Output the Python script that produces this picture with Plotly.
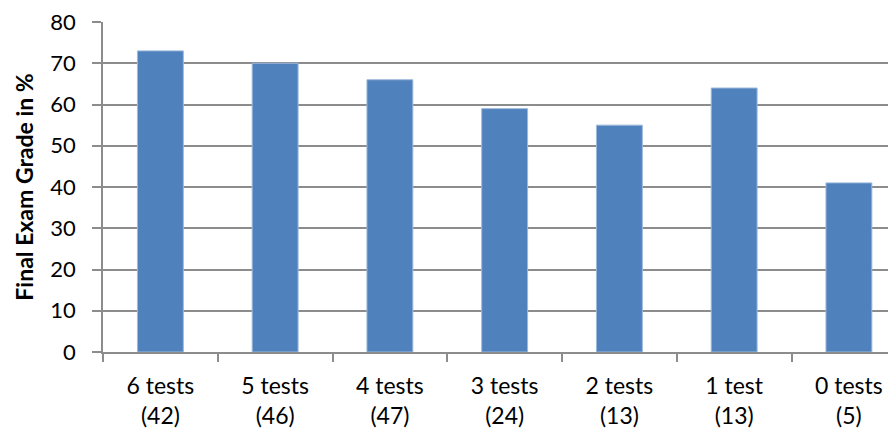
import plotly.graph_objects as go

categories = ["6 tests<br>(42)", "5 tests<br>(46)", "4 tests<br>(47)", "3 tests<br>(24)",
              "2 tests<br>(13)", "1 test<br>(13)", "0 tests<br>(5)"]
grades = [73, 70, 66, 59, 55, 64, 41]
y_ticks = [0, 10, 20, 30, 40, 50, 60, 70, 80]

fig = go.Figure(go.Bar(
    x=categories, y=grades,
    marker=dict(color="#4F81BD", line=dict(color="#9DB9DC", width=1)),
))

grid = "#8C8C8C"
fig.update_layout(
    width=896, height=432,
    margin=dict(l=95, r=0, t=12, b=88),
    plot_bgcolor="white", paper_bgcolor="white",
    bargap=0.6,
    showlegend=False,
    font=dict(family="Lato, Open Sans, sans-serif", size=22, color="#000000"),
)
fig.update_xaxes(
    range=[-0.5, 6.48],
    showline=True, linecolor=grid, linewidth=1.5,
    ticks="outside", tickson="boundaries", ticklen=8, tickcolor=grid, tickwidth=1.5,
    showgrid=False,
    ticklabelstandoff=13,
    tickfont=dict(size=23),
)
fig.update_yaxes(
    range=[0, 80], tickvals=y_ticks,
    showline=True, linecolor=grid, linewidth=1.5,
    showgrid=True, gridcolor=grid, gridwidth=1.5,
    ticks="outside", ticklen=9, tickcolor=grid, tickwidth=1.5,
    ticklabelstandoff=12, ticklabeloverflow="allow",
    tickfont=dict(size=22),
    title=dict(text="<b>Final Exam Grade in %</b>", font=dict(size=23), standoff=10),
)

fig.write_html("out.html")
